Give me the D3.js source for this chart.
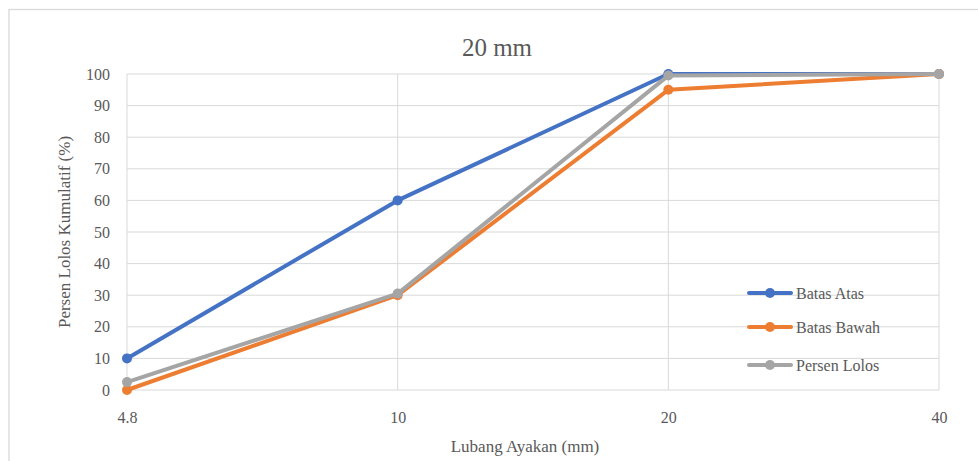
<!DOCTYPE html>
<html>
<head>
<meta charset="utf-8">
<script src="https://cdn.jsdelivr.net/npm/d3@7"></script>
<style>
  html, body { margin: 0; padding: 0; background: #fff; }
  svg { display: block; }
</style>
</head>
<body>
<svg id="chart" width="978" height="461"></svg>
<script>
// Sieve sizes (mm) and cumulative percent passing
const sieveSizes = ["4.8", "10", "20", "40"];
const batasAtas = [10, 60, 100, 100];
const batasBawah = [0, 30, 95, 100];
const persenLolos = [2.5, 30.5, 99.5, 100];
const yTicks = [0, 10, 20, 30, 40, 50, 60, 70, 80, 90, 100];

const seriesNames = ["Batas Atas", "Batas Bawah", "Persen Lolos"];
const seriesValues = [batasAtas, batasBawah, persenLolos];
const seriesColors = ["#4472c4", "#ed7d31", "#a5a5a5"];

const FONT = "Liberation Serif";
const TEXT_COLOR = "#595959";

const svg = d3.select("#chart");

// Chart frame
svg.append("rect")
  .attr("x", 9).attr("y", 9.5)
  .attr("width", 1000).attr("height", 500)
  .attr("fill", "#fff")
  .attr("stroke", "#d9d9d9").attr("stroke-width", 1.3);

const plot = { left: 127, right: 939, top: 74, bottom: 390 };

const x = d3.scalePoint().domain(sieveSizes).range([plot.left, plot.right]);
const y = d3.scaleLinear().domain([0, 100]).range([plot.bottom, plot.top]);

// Horizontal gridlines
svg.append("g")
  .selectAll("line")
  .data(yTicks)
  .join("line")
  .attr("x1", plot.left).attr("x2", plot.right)
  .attr("y1", d => y(d)).attr("y2", d => y(d))
  .attr("stroke", "#d9d9d9").attr("stroke-width", 1);

// Vertical gridlines at each sieve size
svg.append("g")
  .selectAll("line")
  .data(sieveSizes)
  .join("line")
  .attr("x1", d => x(d)).attr("x2", d => x(d))
  .attr("y1", plot.top).attr("y2", plot.bottom)
  .attr("stroke", "#d9d9d9").attr("stroke-width", 1);

// Y axis labels
const yAxis = d3.axisLeft(y).tickValues(yTicks).tickSize(0).tickPadding(17);
const gy = svg.append("g").attr("transform", `translate(${plot.left},0)`).call(yAxis)
  .attr("font-family", FONT).attr("font-size", 16);
gy.select(".domain").remove();
gy.selectAll("text").attr("fill", TEXT_COLOR);

// X axis labels
const xAxis = d3.axisBottom(x).tickSize(0).tickPadding(22);
const gx = svg.append("g").attr("transform", `translate(0,${plot.bottom})`).call(xAxis)
  .attr("font-family", FONT).attr("font-size", 16);
gx.select(".domain").remove();
gx.selectAll("text").attr("fill", TEXT_COLOR);

// Series lines and markers
const line = d3.line().x((d, i) => x(sieveSizes[i])).y(d => y(d));
seriesValues.forEach((vals, s) => {
  const g = svg.append("g");
  g.append("path")
    .datum(vals)
    .attr("d", line)
    .attr("fill", "none")
    .attr("stroke", seriesColors[s])
    .attr("stroke-width", 4)
    .attr("stroke-linejoin", "round")
    .attr("stroke-linecap", "round");
  g.selectAll("circle")
    .data(vals)
    .join("circle")
    .attr("cx", (d, i) => x(sieveSizes[i]))
    .attr("cy", d => y(d))
    .attr("r", 5)
    .attr("fill", seriesColors[s]);
});

function label(xp, yp, size, txt, anchor) {
  return svg.append("text")
    .attr("x", xp).attr("y", yp)
    .attr("text-anchor", anchor || "middle")
    .attr("font-family", FONT)
    .attr("font-size", size)
    .attr("fill", TEXT_COLOR)
    .text(txt);
}

// Title
label(497, 56, 25, "20 mm");

// Axis titles
label(525, 452, 17, "Lubang Ayakan (mm)");
label(0, 0, 17, "Persen Lolos Kumulatif (%)")
  .attr("transform", "translate(70,232) rotate(-90)");

// Legend
const legendRows = [293, 327, 365];
seriesNames.forEach((name, i) => {
  const ly = legendRows[i];
  svg.append("line")
    .attr("x1", 749).attr("x2", 791)
    .attr("y1", ly).attr("y2", ly)
    .attr("stroke", seriesColors[i]).attr("stroke-width", 4)
    .attr("stroke-linecap", "round");
  svg.append("circle")
    .attr("cx", 770).attr("cy", ly).attr("r", 5)
    .attr("fill", seriesColors[i]);
  label(796, ly + 5.5, 16, name, "start");
});
</script>
</body>
</html>
